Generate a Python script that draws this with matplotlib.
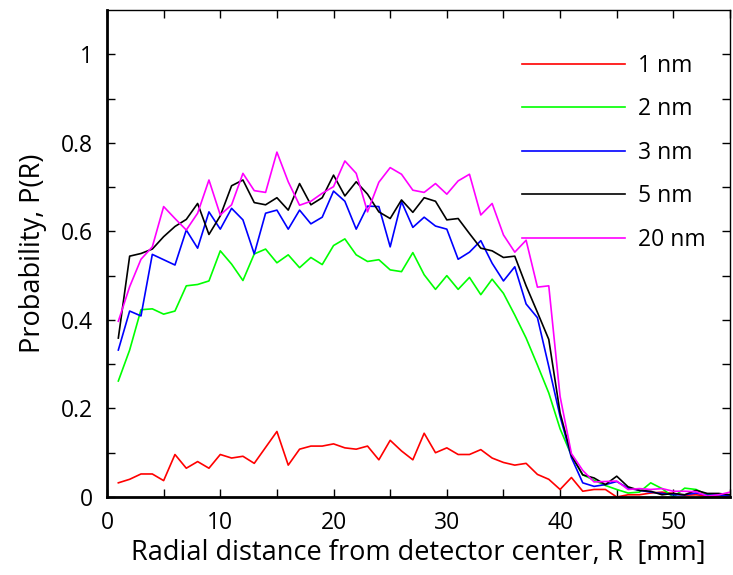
import numpy as np
import matplotlib
matplotlib.use('Agg')
import matplotlib.pyplot as plt

# Radial distance R [mm]
r = np.arange(1, 56)

# P(R) for each particle size
p_1nm = [0.032, 0.040, 0.052, 0.052, 0.037, 0.096, 0.065, 0.080, 0.065, 0.096,
         0.088, 0.092, 0.076, 0.112, 0.148, 0.072, 0.108, 0.115, 0.115, 0.120,
         0.111, 0.108, 0.115, 0.084, 0.128, 0.104, 0.084, 0.144, 0.100, 0.111,
         0.096, 0.096, 0.107, 0.088, 0.078, 0.072, 0.076, 0.051, 0.040, 0.017,
         0.044, 0.013, 0.017, 0.017, 0.000, 0.005, 0.005, 0.009, 0.011, 0.008,
         0.004, 0.005, 0.002, 0.002, 0.000]
p_2nm = [0.262, 0.332, 0.423, 0.425, 0.413, 0.420, 0.477, 0.480, 0.488, 0.556,
         0.526, 0.489, 0.549, 0.560, 0.529, 0.547, 0.518, 0.541, 0.525, 0.568,
         0.583, 0.547, 0.532, 0.536, 0.513, 0.509, 0.552, 0.502, 0.469, 0.500,
         0.469, 0.496, 0.457, 0.492, 0.460, 0.411, 0.359, 0.298, 0.235, 0.154,
         0.094, 0.050, 0.038, 0.026, 0.017, 0.009, 0.011, 0.032, 0.019, 0.000,
         0.020, 0.017, 0.005, 0.004, 0.004]
p_3nm = [0.332, 0.420, 0.409, 0.548, 0.536, 0.524, 0.603, 0.562, 0.644, 0.605,
         0.652, 0.626, 0.549, 0.641, 0.648, 0.605, 0.648, 0.617, 0.632, 0.691,
         0.668, 0.605, 0.657, 0.656, 0.565, 0.667, 0.609, 0.632, 0.612, 0.605,
         0.537, 0.553, 0.579, 0.528, 0.488, 0.520, 0.436, 0.405, 0.295, 0.182,
         0.089, 0.032, 0.024, 0.028, 0.035, 0.020, 0.015, 0.011, 0.008, 0.005,
         0.005, 0.009, 0.004, 0.005, 0.002]
p_5nm = [0.359, 0.544, 0.550, 0.560, 0.588, 0.611, 0.627, 0.663, 0.593, 0.635,
         0.703, 0.716, 0.665, 0.660, 0.676, 0.648, 0.708, 0.660, 0.676, 0.727,
         0.680, 0.712, 0.684, 0.644, 0.629, 0.671, 0.643, 0.676, 0.668, 0.626,
         0.629, 0.595, 0.562, 0.556, 0.541, 0.544, 0.477, 0.417, 0.356, 0.190,
         0.094, 0.050, 0.043, 0.028, 0.047, 0.023, 0.015, 0.013, 0.005, 0.008,
         0.005, 0.015, 0.008, 0.008, 0.005]
p_20nm = [0.397, 0.475, 0.537, 0.565, 0.656, 0.629, 0.603, 0.641, 0.716, 0.637,
          0.660, 0.731, 0.692, 0.688, 0.779, 0.712, 0.659, 0.668, 0.686, 0.701,
          0.759, 0.731, 0.644, 0.711, 0.744, 0.729, 0.693, 0.688, 0.708, 0.684,
          0.714, 0.729, 0.637, 0.663, 0.592, 0.553, 0.580, 0.474, 0.477, 0.227,
          0.098, 0.060, 0.034, 0.035, 0.036, 0.017, 0.019, 0.017, 0.019, 0.013,
          0.013, 0.012, 0.002, 0.005, 0.011]

series = [p_1nm, p_2nm, p_3nm, p_5nm, p_20nm]
labels = ['1 nm', '2 nm', '3 nm', '5 nm', '20 nm']
colors = ['#ff0000', '#00ff00', '#0000ff', '#000000', '#ff00ff']

plt.rcParams['font.family'] = ['Open Sans', 'DejaVu Sans']

fig = plt.figure(figsize=(7.33, 5.75), dpi=100)
ax = fig.add_axes([107 / 733, 78 / 575, 623 / 733, 487 / 575])

for y, lab, c in zip(series, labels, colors):
    ax.plot(r, y, color=c, lw=1.2, label=lab)

ax.set_xlim(0, 55)
ax.set_ylim(0, 1.1)

ax.set_xticks(np.arange(0, 56, 5))
ax.set_xticklabels([str(v) if v % 10 == 0 else '' for v in range(0, 56, 5)])
yt = np.round(np.arange(0, 1.01, 0.1), 1)
ax.set_yticks(yt)
ylab = []
for i, v in enumerate(yt):
    if i % 2 == 1:
        ylab.append('')
    elif v == 0 or v == 1:
        ylab.append(str(int(v)))
    else:
        ylab.append('%.1f' % v)
ax.set_yticklabels(ylab)

ax.tick_params(direction='in', length=6, width=1.0, labelsize=16.5,
               top=True, right=True, pad=10)

for s in ['left', 'bottom']:
    ax.spines[s].set_linewidth(2.0)
for s in ['top', 'right']:
    ax.spines[s].set_linewidth(1.0)

ax.set_xlabel('Radial distance from detector center, R  [mm]', fontsize=19.5, labelpad=3)
ax.set_ylabel('Probability, P(R)', fontsize=19.5, labelpad=10)

ax.legend(loc='upper left', frameon=False, fontsize=16.5, handlelength=4.5,
          handletextpad=0.55, labelspacing=0.85, borderpad=0, borderaxespad=0,
          bbox_to_anchor=(0.666, 0.910))

fig.savefig('out.png', dpi=100)
